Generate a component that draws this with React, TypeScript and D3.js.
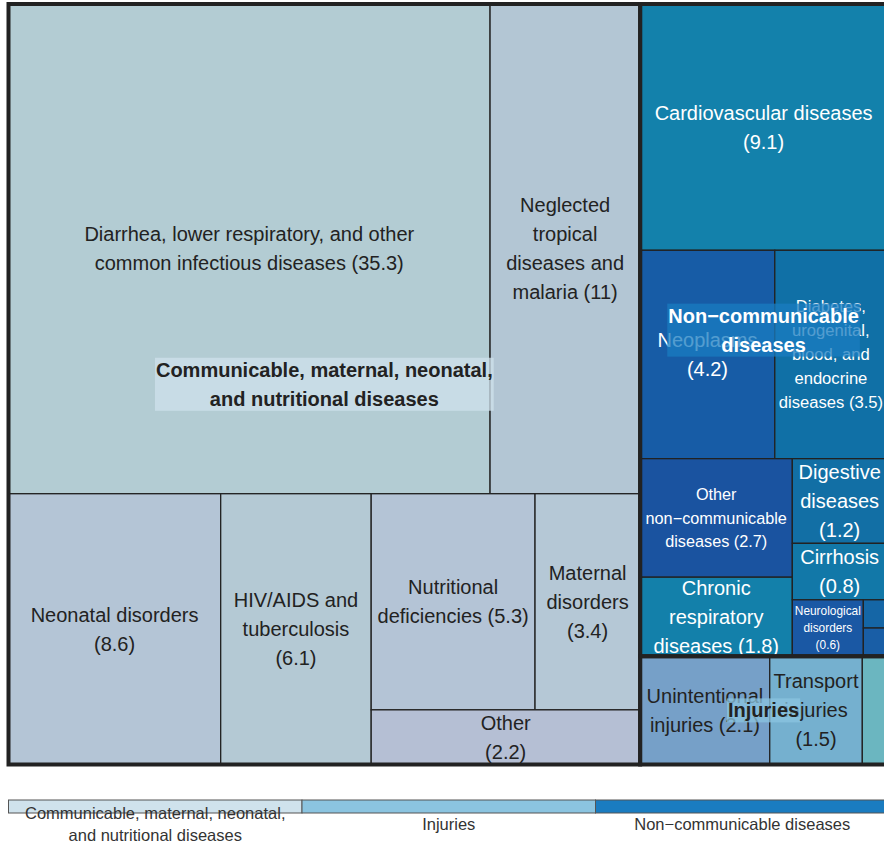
import React, { useRef, useEffect } from "react";
import * as d3 from "d3";

// cause names: "\n" marks a line break, a trailing "\n" puts the value on its own line
const groupNames = [
  "Communicable, maternal, neonatal,\nand nutritional diseases",
  "Non−communicable\ndiseases",
  "Injuries",
];

const communicableCauses = [
  "Diarrhea, lower respiratory, and other\ncommon infectious diseases",
  "Neglected\ntropical\ndiseases and\nmalaria",
  "Neonatal disorders\n",
  "HIV/AIDS and\ntuberculosis\n",
  "Nutritional\ndeficiencies",
  "Maternal\ndisorders\n",
  "Other\n",
];
const communicableValues = [35.3, 11, 8.6, 6.1, 5.3, 3.4, 2.2];

const ncdCauses = [
  "Cardiovascular diseases\n",
  "Neoplasms\n",
  "Diabetes,\nurogenital,\nblood, and\nendocrine\ndiseases",
  "Other\nnon−communicable\ndiseases",
  "Chronic\nrespiratory\ndiseases",
  "Digestive\ndiseases\n",
  "Cirrhosis\n",
  "Neurological\ndisorders\n",
  "Mental\ndisorders\n",
  "Skin\ndiseases\n",
];
const ncdValues = [9.1, 4.2, 3.5, 2.7, 1.8, 1.2, 0.8, 0.6, 0.1, 0.1];

const injuryCauses = ["Unintentional\ninjuries", "Transport\ninjuries\n", "Self-harm and\nviolence"];
const injuryValues = [2.1, 1.5, 0.4];

const legendLabels = [
  "Communicable, maternal, neonatal,\nand nutritional diseases",
  "Injuries",
  "Non−communicable diseases",
];

// colours
const communicableColors = ["#b3ccd3", "#b3c6d4", "#b4c5d6", "#b4c9d4", "#b4c4d6", "#b5c8d6", "#b5bfd4"];
const ncdColors = ["#1381ab", "#175ca6", "#1070a6", "#1a53a0", "#1380aa", "#126fa5", "#1278a8", "#1a58a4", "#1566a6", "#195ea6"];
const injuryColors = ["#76a0c8", "#75b0cf", "#6bb6c0"];
const legendColors = ["#cfe2ec", "#8bc4e0", "#1a7cc0"];
const groupBoxColors = [legendColors[0], legendColors[2], legendColors[1]];
const groupTextColors = ["#222", "#fff", "#222"];

const FONT = '"Liberation Sans", Arial, Helvetica, sans-serif';

// pivot-by-size tiling (ordered treemap)
function layoutPivot(nodes: any[], x0: number, y0: number, x1: number, y1: number) {
  if (!nodes.length) return;
  if (nodes.length === 1) {
    Object.assign(nodes[0], { x0, y0, x1, y1 });
    return;
  }
  const total = d3.sum(nodes, (d: any) => d.value);
  const w = x1 - x0;
  const h = y1 - y0;
  const wide = w >= h;
  const pivot = nodes[0];
  const rest = nodes.slice(1);
  let best = 0;
  let bestRatio = Infinity;
  for (let k = 0; k < rest.length; k++) {
    const s = pivot.value + d3.sum(rest.slice(0, k), (d: any) => d.value);
    let pw, ph;
    if (wide) {
      pw = (w * s) / total;
      ph = (h * pivot.value) / s;
    } else {
      ph = (h * s) / total;
      pw = (w * pivot.value) / s;
    }
    const r = Math.max(pw / ph, ph / pw);
    if (r < bestRatio) {
      bestRatio = r;
      best = k;
    }
  }
  const l2 = rest.slice(0, best);
  const l3 = rest.slice(best);
  const s = pivot.value + d3.sum(l2, (d: any) => d.value);
  if (wide) {
    const xm = x0 + (w * s) / total;
    const ym = y0 + (h * pivot.value) / s;
    Object.assign(pivot, { x0, y0, x1: xm, y1: ym });
    layoutPivot(l2, x0, ym, xm, y1);
    layoutPivot(l3, xm, y0, x1, y1);
  } else {
    const ym = y0 + (h * s) / total;
    const xm = x0 + (w * pivot.value) / s;
    Object.assign(pivot, { x0, y0, x1: xm, y1: ym });
    layoutPivot(l2, xm, y0, x1, ym);
    layoutPivot(l3, x0, ym, x1, y1);
  }
}

const pivotBySize = (parent: any, x0: number, y0: number, x1: number, y1: number) =>
  layoutPivot(parent.children, x0, y0, x1, y1);

const makeLeaves = (causes: string[], values: number[], colors: string[]) =>
  causes.map((c, i) => ({
    label: c + (c.endsWith("\n") ? "" : " ") + `(${values[i]})`,
    value: values[i],
    color: colors[i],
  }));

const App = () => {
  const svgRef = useRef<SVGSVGElement>(null);

  useEffect(() => {
    const width = 884;
    const height = 843;
    const plot = { x: 8.5, y: 4, w: 878.5, h: 760.5 };
    const lineH = 1.45;

    const svg = d3.select(svgRef.current).attr("width", width).attr("height", height);
    svg.selectAll("*").remove();

    const data = {
      name: "root",
      children: [
        { name: groupNames[0], idx: 0, children: makeLeaves(communicableCauses, communicableValues, communicableColors) },
        { name: groupNames[1], idx: 1, children: makeLeaves(ncdCauses, ncdValues, ncdColors) },
        { name: groupNames[2], idx: 2, children: makeLeaves(injuryCauses, injuryValues, injuryColors) },
      ],
    };

    const root = d3
      .hierarchy<any>(data)
      .sum((d) => d.value || 0)
      .sort((a, b) => (b.value || 0) - (a.value || 0));

    d3.treemap<any>().tile(pivotBySize).size([plot.w, plot.h]).round(false)(root);

    const chart = svg.append("g").attr("transform", `translate(${plot.x},${plot.y})`);

    const leaves = root.leaves() as any[];

    chart
      .selectAll("rect.cell")
      .data(leaves)
      .join("rect")
      .attr("class", "cell")
      .attr("x", (d) => d.x0)
      .attr("y", (d) => d.y0)
      .attr("width", (d) => d.x1 - d.x0)
      .attr("height", (d) => d.y1 - d.y0)
      .attr("fill", (d) => d.data.color)
      .attr("stroke", "#222")
      .attr("stroke-width", 1.3);

    // cell labels, shrunk to fit the cell width
    leaves.forEach((d) => {
      const w = d.x1 - d.x0;
      const h = d.y1 - d.y0;
      const cx = (d.x0 + d.x1) / 2;
      const cy = (d.y0 + d.y1) / 2;
      const lines = d.data.label.split("\n");
      const dark = d.parent.data.idx === 1;
      const text = chart
        .append("text")
        .attr("text-anchor", "middle")
        .style("font-family", FONT)
        .style("font-size", "20px")
        .attr("fill", dark ? "#fff" : "#222");
      const spans = lines.map((ln: string) => text.append("tspan").attr("x", cx).text(ln));
      const maxW = d3.max(spans, (s: any) => (s.node() as SVGTSpanElement).getComputedTextLength()) || 1;
      let size = Math.min(20, (0.93 * w * 20) / maxW);
      size = Math.min(size, (h * 1.25) / (lines.length * lineH));
      if (size < 6) {
        text.remove();
        return;
      }
      text.style("font-size", `${size}px`);
      spans.forEach((s: any, i: number) =>
        s.attr("y", cy + (i - (lines.length - 1) / 2) * size * lineH).attr("dy", "0.35em")
      );
    });

    const groups = root.children as any[];

    chart
      .selectAll("rect.group")
      .data(groups)
      .join("rect")
      .attr("class", "group")
      .attr("x", (d) => d.x0)
      .attr("y", (d) => d.y0)
      .attr("width", (d) => d.x1 - d.x0)
      .attr("height", (d) => d.y1 - d.y0)
      .attr("fill", "none")
      .attr("stroke", "#222")
      .attr("stroke-width", 4);

    // group labels with translucent boxes
    groups.forEach((d) => {
      const cx = (d.x0 + d.x1) / 2;
      const cy = (d.y0 + d.y1) / 2;
      const lines = d.data.name.split("\n");
      const lh = 20 * lineH;
      const box = chart.append("rect");
      const text = chart
        .append("text")
        .attr("text-anchor", "middle")
        .style("font-family", FONT)
        .style("font-size", "20px")
        .style("font-weight", "bold")
        .attr("fill", groupTextColors[d.data.idx]);
      const spans = lines.map((ln: string, i: number) =>
        text
          .append("tspan")
          .attr("x", cx)
          .attr("y", cy + (i - (lines.length - 1) / 2) * lh)
          .attr("dy", "0.35em")
          .text(ln)
      );
      const maxW = d3.max(spans, (s: any) => (s.node() as SVGTSpanElement).getComputedTextLength()) || 0;
      const bh = (lines.length - 1) * lh + 24;
      box
        .attr("x", cx - maxW / 2 - 1)
        .attr("y", cy - bh / 2)
        .attr("width", maxW + 2)
        .attr("height", bh)
        .attr("fill", groupBoxColors[d.data.idx])
        .attr("opacity", 0.75);
    });

    // legend
    const legendX = d3.scaleBand().domain(legendLabels).range([8.5, 889]);
    const legend = svg.append("g");
    legend
      .selectAll("rect")
      .data(legendLabels)
      .join("rect")
      .attr("x", (d) => legendX(d)!)
      .attr("y", 800)
      .attr("width", legendX.bandwidth())
      .attr("height", 13)
      .attr("fill", (_d, i) => legendColors[i])
      .attr("stroke", "#555")
      .attr("stroke-width", 1);

    legendLabels.forEach((lab) => {
      const lines = lab.split("\n");
      const cx = legendX(lab)! + legendX.bandwidth() / 2;
      const t = legend
        .append("text")
        .attr("text-anchor", "middle")
        .style("font-family", FONT)
        .style("font-size", "16.5px")
        .attr("fill", "#333");
      lines.forEach((ln, i) =>
        t
          .append("tspan")
          .attr("x", cx)
          .attr("y", 824 + (i - (lines.length - 1) / 2) * 22)
          .attr("dy", "0.35em")
          .text(ln)
      );
    });
  }, []);

  return <svg ref={svgRef} style={{ position: "absolute", left: 0, top: 0 }}></svg>;
};

export default App;
